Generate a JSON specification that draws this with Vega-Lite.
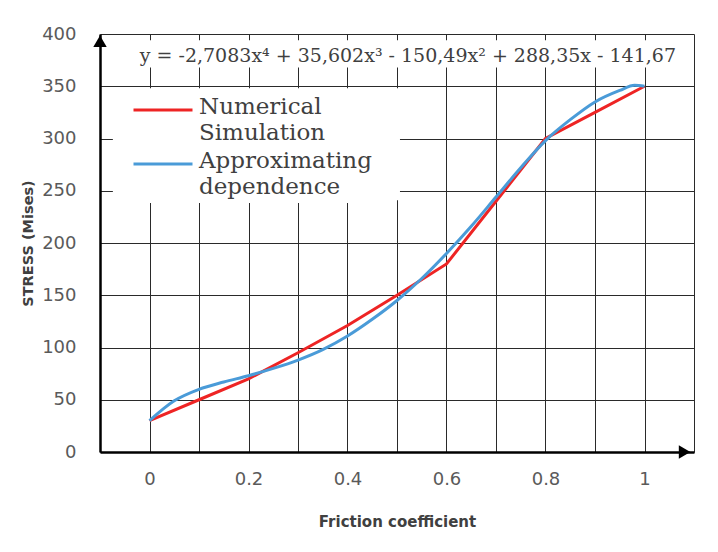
{
  "$schema": "https://vega.github.io/schema/vega-lite/v6.json",
  "width": 594,
  "height": 418,
  "autosize": "none",
  "padding": {"left": 100, "top": 34, "right": 24, "bottom": 100},
  "background": "white",
  "config": {"view": {"stroke": null}},
  "datasets": {
    "numerical": [
      {"f": 0, "stress": 30, "series": "Numerical Simulation"},
      {"f": 0.1, "stress": 50, "series": "Numerical Simulation"},
      {"f": 0.2, "stress": 70, "series": "Numerical Simulation"},
      {"f": 0.3, "stress": 95, "series": "Numerical Simulation"},
      {"f": 0.4, "stress": 121, "series": "Numerical Simulation"},
      {"f": 0.5, "stress": 150, "series": "Numerical Simulation"},
      {"f": 0.6, "stress": 180, "series": "Numerical Simulation"},
      {"f": 0.7, "stress": 240, "series": "Numerical Simulation"},
      {"f": 0.8, "stress": 300, "series": "Numerical Simulation"},
      {"f": 0.9, "stress": 325, "series": "Numerical Simulation"},
      {"f": 1.0, "stress": 350, "series": "Numerical Simulation"}
    ],
    "approx": [
      {"f": 0, "stress": 30, "series": "Approximating dependence"},
      {"f": 0.05, "stress": 49, "series": "Approximating dependence"},
      {"f": 0.1, "stress": 60, "series": "Approximating dependence"},
      {"f": 0.15, "stress": 67, "series": "Approximating dependence"},
      {"f": 0.2, "stress": 73, "series": "Approximating dependence"},
      {"f": 0.25, "stress": 80, "series": "Approximating dependence"},
      {"f": 0.3, "stress": 88, "series": "Approximating dependence"},
      {"f": 0.35, "stress": 98, "series": "Approximating dependence"},
      {"f": 0.4, "stress": 111, "series": "Approximating dependence"},
      {"f": 0.45, "stress": 127, "series": "Approximating dependence"},
      {"f": 0.5, "stress": 145, "series": "Approximating dependence"},
      {"f": 0.55, "stress": 166, "series": "Approximating dependence"},
      {"f": 0.6, "stress": 190, "series": "Approximating dependence"},
      {"f": 0.65, "stress": 216, "series": "Approximating dependence"},
      {"f": 0.7, "stress": 244, "series": "Approximating dependence"},
      {"f": 0.75, "stress": 272, "series": "Approximating dependence"},
      {"f": 0.8, "stress": 298, "series": "Approximating dependence"},
      {"f": 0.85, "stress": 318, "series": "Approximating dependence"},
      {"f": 0.9, "stress": 335, "series": "Approximating dependence"},
      {"f": 0.95, "stress": 346, "series": "Approximating dependence"},
      {"f": 0.98, "stress": 351, "series": "Approximating dependence"},
      {"f": 1.0, "stress": 350, "series": "Approximating dependence"}
    ]
  },
  "layer": [
    {
      "data": {"values": [{}]},
      "mark": {"type": "rect", "fill": "white"},
      "encoding": {
        "x": {"datum": -0.074, "type": "quantitative"},
        "x2": {"datum": 0.506},
        "y": {"datum": 348, "type": "quantitative"},
        "y2": {"datum": 241}
      }
    },
    {
      "data": {"name": "numerical"},
      "mark": {"type": "line", "strokeWidth": 3, "interpolate": "linear"},
      "encoding": {
        "x": {
          "field": "f",
          "type": "quantitative",
          "scale": {"domain": [-0.1, 1.1], "nice": false, "zero": false},
          "axis": {
            "values": [-0.1, 0, 0.1, 0.2, 0.3, 0.4, 0.5, 0.6, 0.7, 0.8, 0.9, 1.0, 1.1],
            "format": ".1~f",
            "labelExpr": "indexof(['0','0.2','0.4','0.6','0.8','1'], datum.label) >= 0 ? datum.label : ''",
            "grid": true,
            "gridColor": "#2a2a2a",
            "gridWidth": 1,
            "gridOpacity": 1,
            "ticks": false,
            "domain": true,
            "domainColor": "#000000",
            "domainWidth": 2.5,
            "labelFont": "DejaVu Sans",
            "labelFontSize": 18,
            "labelColor": "#5a5a5a",
            "labelPadding": 18,
            "labelFlush": false,
            "labelOverlap": false,
            "title": "Friction coefficient",
            "titleFont": "DejaVu Sans",
            "titleFontSize": 15,
            "titleFontWeight": "bold",
            "titleColor": "#404040",
            "titlePadding": 26
          }
        },
        "y": {
          "field": "stress",
          "type": "quantitative",
          "scale": {"domain": [0, 400], "nice": false},
          "axis": {
            "values": [0, 50, 100, 150, 200, 250, 300, 350, 400],
            "grid": true,
            "gridColor": "#2a2a2a",
            "gridWidth": 1,
            "gridOpacity": 1,
            "ticks": false,
            "domain": true,
            "domainColor": "#000000",
            "domainWidth": 2.5,
            "labelFont": "DejaVu Sans",
            "labelFontSize": 18,
            "labelColor": "#5a5a5a",
            "labelPadding": 24,
            "title": "STRESS (Mises)",
            "titleFont": "DejaVu Sans",
            "titleFontSize": 14.5,
            "titleFontWeight": "bold",
            "titleColor": "#404040",
            "titlePadding": 6
          }
        },
        "color": {
          "field": "series",
          "type": "nominal",
          "scale": {"domain": ["Numerical Simulation", "Approximating dependence"], "range": ["#ee2424", "#4a9bd8"]},
          "legend": {
            "title": null,
            "orient": "none",
            "legendX": 28,
            "legendY": 58,
            "fillColor": "white",
            "strokeColor": null,
            "padding": 4,
            "symbolType": "stroke",
            "symbolStrokeWidth": 3,
            "symbolSize": 3481,
            "labelFont": "DejaVu Serif",
            "labelFontSize": 23,
            "labelColor": "#404040",
            "labelLimit": 400,
            "labelOffset": 5,
            "rowPadding": 5,
            "labelBaseline": "top",
            "labelExpr": "datum.label == 'Numerical Simulation' ? ['Numerical', 'Simulation'] : ['Approximating', 'dependence']",
            "encoding": {
              "labels": {"lineHeight": {"value": 26}, "y": {"value": 0}},
              "symbols": {"y": {"value": 14}}
            }
          }
        }
      }
    },
    {
      "data": {"name": "approx"},
      "mark": {"type": "line", "strokeWidth": 3, "interpolate": "monotone"},
      "encoding": {
        "x": {"field": "f", "type": "quantitative"},
        "y": {"field": "stress", "type": "quantitative"},
        "color": {"field": "series", "type": "nominal"}
      }
    },
    {
      "data": {"values": [{}]},
      "mark": {"type": "rect", "fill": "white"},
      "encoding": {
        "x": {"datum": -0.033, "type": "quantitative"},
        "x2": {"datum": 1.076},
        "y": {"datum": 394, "type": "quantitative"},
        "y2": {"datum": 368}
      }
    },
    {
      "data": {"values": [{}]},
      "mark": {"type": "text", "font": "DejaVu Serif", "fontSize": 19, "color": "#404040", "align": "center", "baseline": "middle"},
      "encoding": {
        "x": {"datum": 0.522, "type": "quantitative"},
        "y": {"datum": 379, "type": "quantitative"},
        "text": {"value": "y = -2,7083x⁴ + 35,602x³ - 150,49x² + 288,35x - 141,67"}
      }
    },
    {
      "data": {"values": [{}]},
      "mark": {"type": "point", "shape": "triangle-up", "filled": true, "color": "black", "opacity": 1, "size": 180},
      "encoding": {
        "x": {"datum": -0.1, "type": "quantitative"},
        "y": {"datum": 393, "type": "quantitative"}
      }
    },
    {
      "data": {"values": [{}]},
      "mark": {"type": "point", "shape": "triangle-right", "filled": true, "color": "black", "opacity": 1, "size": 180},
      "encoding": {
        "x": {"datum": 1.081, "type": "quantitative"},
        "y": {"datum": 0, "type": "quantitative"}
      }
    }
  ]
}
